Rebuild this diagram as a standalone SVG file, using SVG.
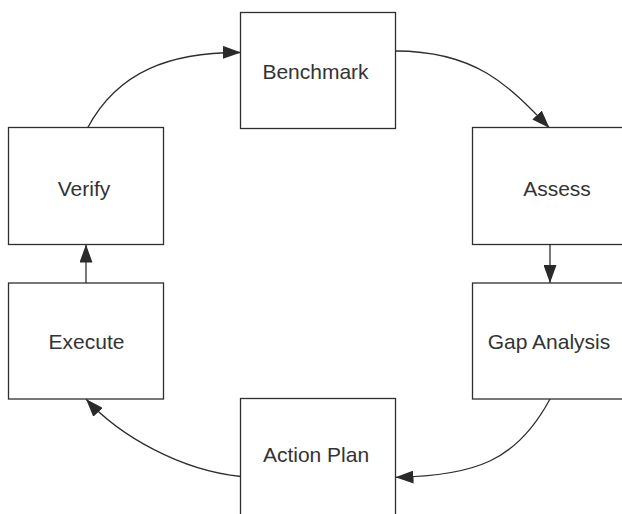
<svg xmlns="http://www.w3.org/2000/svg" width="622" height="514" viewBox="0 0 622 514">
<style>
.box{fill:#fff;stroke:#2e2e2e;stroke-width:1.3}
.lbl{font-family:"Liberation Sans",Arial,sans-serif;font-size:21px;fill:#333;text-anchor:middle}
.con{fill:none;stroke:#2e2e2e;stroke-width:1.3;marker-end:url(#ah)}
</style>
<defs>
<marker id="ah" viewBox="0 0 18 13" refX="18" refY="6.5" markerWidth="18" markerHeight="13" markerUnits="userSpaceOnUse" orient="auto">
<path d="M0,0 L18,6.5 L0,13 z" fill="#2a2a2a"/>
</marker>
</defs>
<rect width="622" height="514" fill="#fff"/>
<g id="connectors">
<path class="con" d="M87.5,128 C118,70.8 171,52 241,52.5"/>
<path class="con" d="M395.5,51 C475.5,51 508,84.8 549.5,128"/>
<path class="con" d="M550,244.5 L550,283"/>
<path class="con" d="M550,399 C517,460.6 475.5,476 395.5,477.3"/>
<path class="con" d="M241,476.5 C181,470.5 119.5,436 86,399"/>
<path class="con" d="M86,283 L86,244.5"/>
</g>
<g id="benchmark"><rect class="box" x="240.5" y="12.5" width="155" height="116"/><text class="lbl" x="315.5" y="78.5">Benchmark</text></g>
<g id="assess"><rect class="box" x="472.5" y="127.5" width="155" height="117"/><text class="lbl" x="557" y="195.5">Assess</text></g>
<g id="gap-analysis"><rect class="box" x="472.5" y="283" width="155" height="116"/><text class="lbl" x="549" y="348.5">Gap Analysis</text></g>
<g id="action-plan"><rect class="box" x="240.5" y="398.5" width="155" height="117"/><text class="lbl" x="316" y="462">Action Plan</text></g>
<g id="execute"><rect class="box" x="8.5" y="283" width="155" height="116"/><text class="lbl" x="86.5" y="349">Execute</text></g>
<g id="verify"><rect class="box" x="8.5" y="127.5" width="155" height="117"/><text class="lbl" x="84" y="196">Verify</text></g>
</svg>
